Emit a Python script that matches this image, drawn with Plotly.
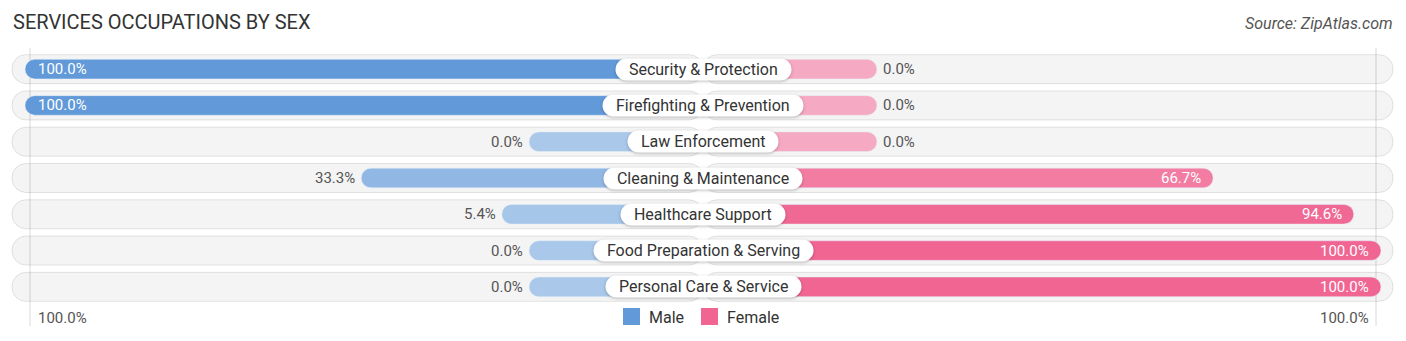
import plotly.graph_objects as go

# ---- data ----
categories = [
    "Security & Protection",
    "Firefighting & Prevention",
    "Law Enforcement",
    "Cleaning & Maintenance",
    "Healthcare Support",
    "Food Preparation & Serving",
    "Personal Care & Service",
]
male = [100.0, 100.0, 0.0, 33.3, 5.4, 0.0, 0.0]
female = [0.0, 0.0, 0.0, 66.7, 94.6, 100.0, 100.0]
axis_label_left = "100.0%"
axis_label_right = "100.0%"
series_names = ["Male", "Female"]

# ---- geometry / style ----
W, H = 1406, 341
PX_PER_UNIT = 6.78          # one percent-unit in pixels (100% bar reaches 678 px from centre)
STUB = 25.66                # minimum visible bar length (units) under the centre label
SCALE = (100 - STUB) / 100
HALF = W / 2 / PX_PER_UNIT
M_T, M_B = 51, 36
PLOT_TOP, PLOT_BOT = M_T, H - M_B


def bar_len(v):
    return STUB + v * SCALE


def py(ypx):
    return (PLOT_BOT - ypx) / (PLOT_BOT - PLOT_TOP)


def mix(c1, c2, t):
    a = [int(c1[i:i + 2], 16) for i in (1, 3, 5)]
    b = [int(c2[i:i + 2], 16) for i in (1, 3, 5)]
    return "rgb(%d,%d,%d)" % tuple(round(a[k] + (b[k] - a[k]) * t) for k in range(3))


MALE_LIGHT, MALE_DARK = "#a9c8ea", "#6199d9"
FEM_LIGHT, FEM_DARK = "#f6a9c2", "#f06592"
FONT = "Roboto"
NB = "\u00a0"

fig = go.Figure()

# background tracks (two halves, each rounded at its outer end)
track_left = (12 - W / 2) / PX_PER_UNIT
track_right = (1393 - W / 2) / PX_PER_UNIT
for xv in (track_left, track_right):
    fig.add_trace(go.Bar(
        y=categories, x=[xv] * len(categories), base=0, orientation="h",
        width=0.8, marker=dict(color="rgba(0,0,0,0.045)", cornerradius=14,
                               line=dict(color="rgba(0,0,0,0.10)", width=1)),
        showlegend=False, hoverinfo="skip"))

fig.add_trace(go.Bar(
    y=categories, x=[-bar_len(v) for v in male], base=0, orientation="h",
    width=0.54, marker=dict(color=[mix(MALE_LIGHT, MALE_DARK, v / 100) for v in male],
                            cornerradius=10),
    showlegend=False, hoverinfo="skip"))
fig.add_trace(go.Bar(
    y=categories, x=[bar_len(v) for v in female], base=0, orientation="h",
    width=0.54, marker=dict(color=[mix(FEM_LIGHT, FEM_DARK, v / 100) for v in female],
                            cornerradius=10),
    showlegend=False, hoverinfo="skip"))

ann = []
for c, m, f in zip(categories, male, female):
    ann.append(dict(x=0, y=c, text=NB * 3 + c + NB * 3, showarrow=False,
                    xanchor="center", yanchor="middle", bgcolor="white", borderpad=1,
                    font=dict(family=FONT, size=16, color="#333")))
    if m > 50:
        ann.append(dict(x=-bar_len(m), y=c, text=f"{m:.1f}%", showarrow=False,
                        xanchor="left", xshift=11, font=dict(family=FONT, size=15, color="white")))
    else:
        ann.append(dict(x=-bar_len(m), y=c, text=f"{m:.1f}%", showarrow=False,
                        xanchor="right", xshift=-4, font=dict(family=FONT, size=15, color="#555")))
    if f > 50:
        ann.append(dict(x=bar_len(f), y=c, text=f"{f:.1f}%", showarrow=False,
                        xanchor="right", xshift=-10, font=dict(family=FONT, size=15, color="white")))
    else:
        ann.append(dict(x=bar_len(f), y=c, text=f"{f:.1f}%", showarrow=False,
                        xanchor="left", xshift=4, font=dict(family=FONT, size=15, color="#555")))

ann.append(dict(x=36 / W, y=py(318), xref="paper", yref="paper", text=axis_label_left,
                showarrow=False, xanchor="left", yanchor="middle",
                font=dict(family=FONT, size=15, color="#555")))
ann.append(dict(x=1371 / W, y=py(318), xref="paper", yref="paper", text=axis_label_right,
                showarrow=False, xanchor="right", yanchor="middle",
                font=dict(family=FONT, size=15, color="#555")))
ann.append(dict(x=1395 / W, y=py(24), xref="paper", yref="paper", text="<i>Source: ZipAtlas.com</i>",
                showarrow=False, xanchor="right", yanchor="middle",
                font=dict(family=FONT, size=16, color="#555")))

grid_x = (30 - W / 2) / PX_PER_UNIT
shapes = []
for gx in (grid_x, -grid_x):
    shapes.append(dict(type="line", x0=gx, x1=gx, xref="x", yref="paper",
                       y0=py(48), y1=py(326), line=dict(color="#d9d9d9", width=1), layer="below"))

# manual legend
legend_items = [(series_names[0], MALE_DARK, 623), (series_names[1], FEM_DARK, 701)]
for name, col, x0 in legend_items:
    shapes.append(dict(type="rect", xref="paper", yref="paper",
                       x0=x0 / W, x1=(x0 + 17) / W, y0=py(308), y1=py(325),
                       fillcolor=col, line=dict(width=0)))
    ann.append(dict(x=(x0 + 24) / W, y=py(317), xref="paper", yref="paper", text=name,
                    showarrow=False, xanchor="left", yanchor="middle",
                    font=dict(family=FONT, size=16, color="#333")))

fig.update_layout(
    width=W, height=H,
    margin=dict(l=0, r=0, t=M_T, b=M_B),
    paper_bgcolor="white", plot_bgcolor="white",
    barmode="overlay",
    title=dict(text="SERVICES OCCUPATIONS BY SEX", x=13 / W, y=1 - 22 / H,
               xanchor="left", yanchor="middle", xref="container", yref="container",
               font=dict(family=FONT, size=20, color="#333")),
    xaxis=dict(range=[-HALF, HALF], visible=False, fixedrange=True),
    yaxis=dict(categoryorder="array", categoryarray=categories,
               visible=False, fixedrange=True, range=[len(categories) - 0.5, -0.5]),
    annotations=ann, shapes=shapes,
    showlegend=False,
)

# round the white label boxes into pills with a soft shadow
post = """
var gd = document.getElementById('{plot_id}');
gd.querySelectorAll('g.annotation rect.bg').forEach(function(r){
  var h = parseFloat(r.getAttribute('height')) || 0;
  r.setAttribute('rx', h / 2); r.setAttribute('ry', h / 2);
  if (r.style.fillOpacity !== '0') {
    r.style.filter = 'drop-shadow(0px 1px 1.5px rgba(0,0,0,0.25))';
  }
});
"""
fig.write_html("out.html", post_script=post)
